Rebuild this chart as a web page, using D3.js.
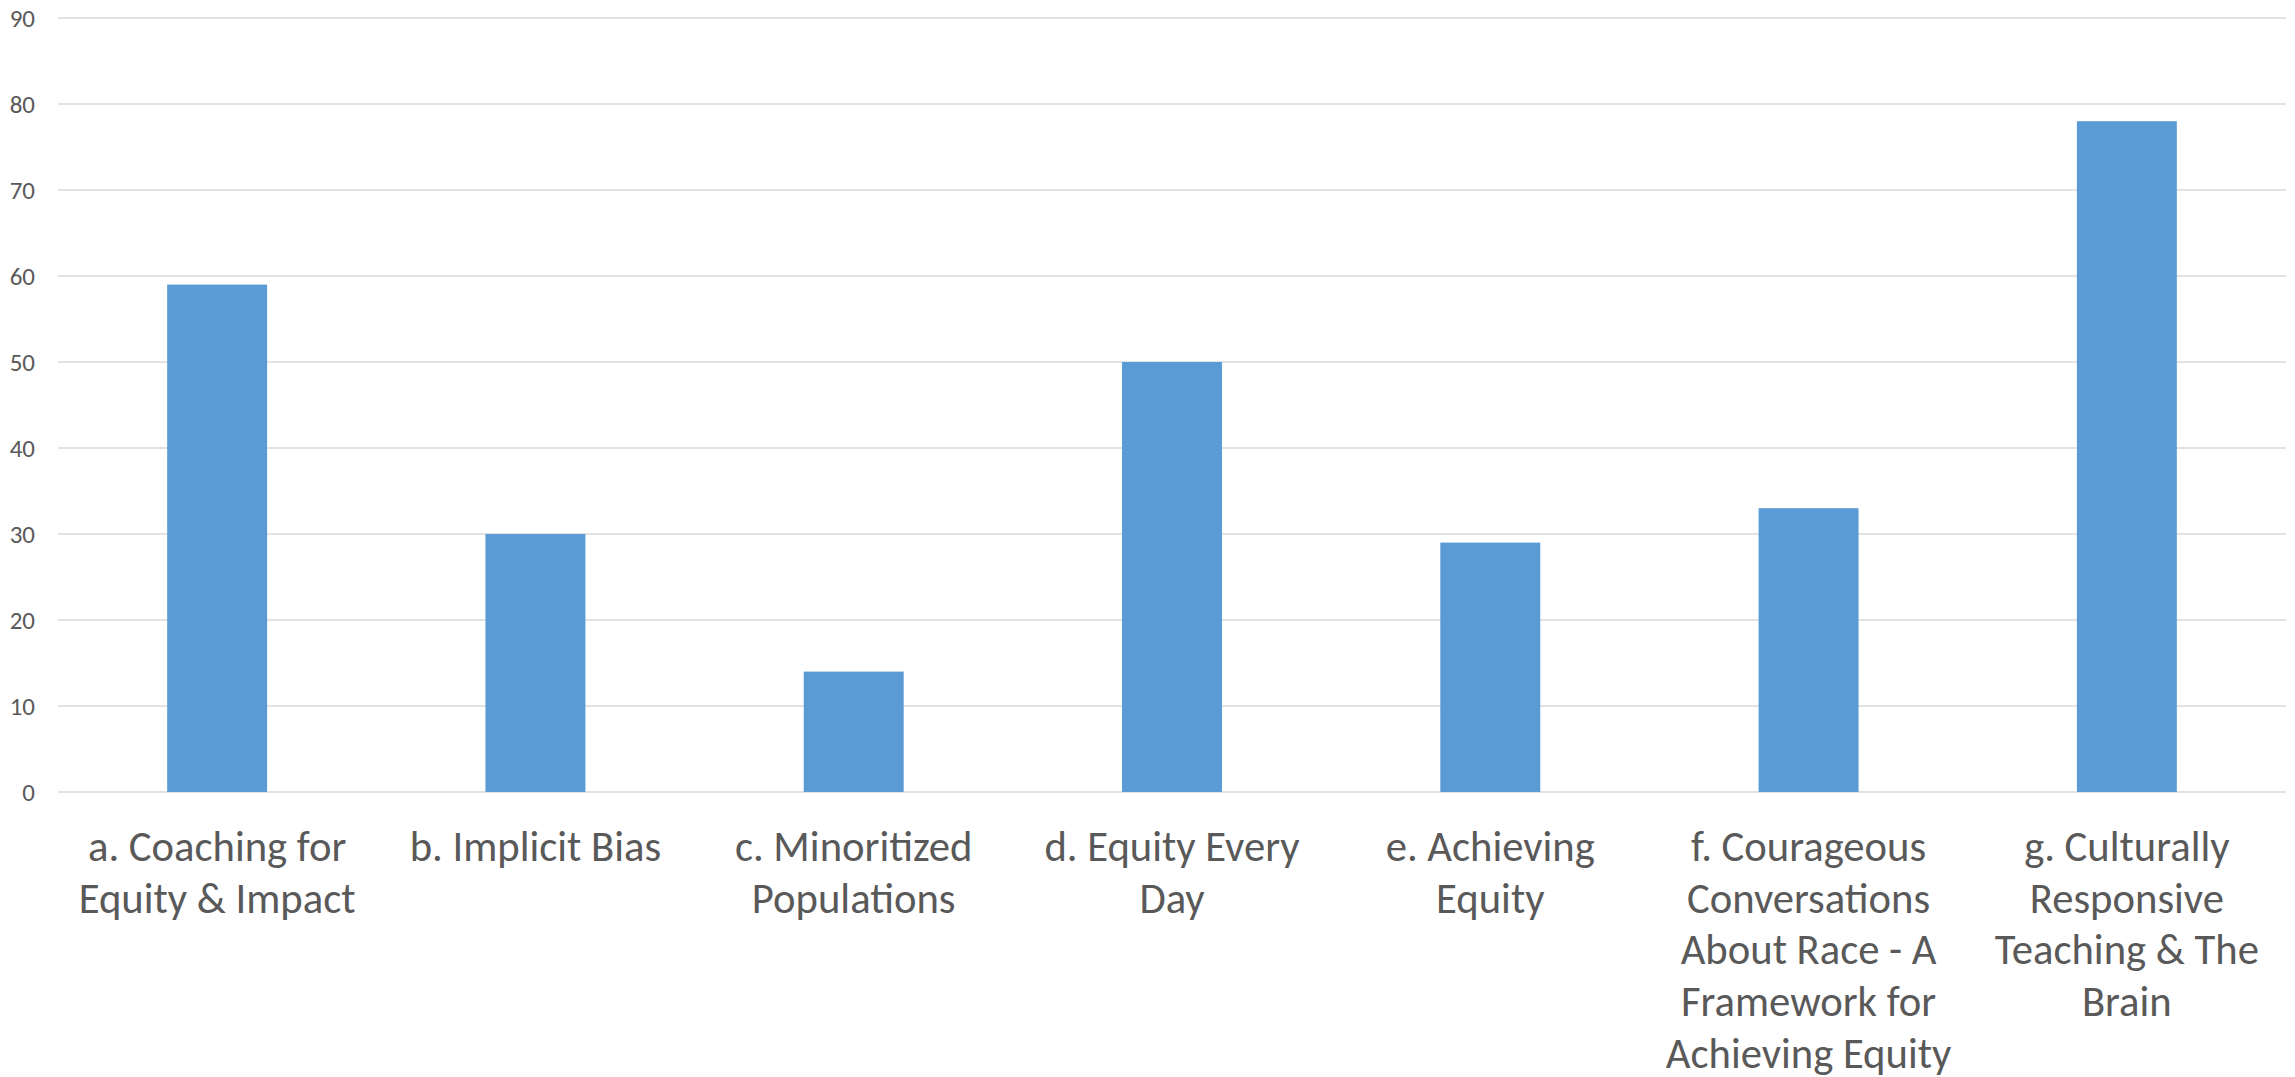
<!DOCTYPE html>
<html>
<head>
<meta charset="utf-8">
<script src="https://cdn.jsdelivr.net/npm/d3@7"></script>
<style>
  html, body { margin: 0; padding: 0; background: #fff; }
  svg { display: block; }
  text { font-family: Carlito, Calibri, Lato, sans-serif; fill: #595959; }
</style>
</head>
<body>
<svg id="chart" width="2295" height="1077"></svg>
<script>
const categories = [
  "a. Coaching for Equity & Impact",
  "b. Implicit Bias",
  "c. Minoritized Populations",
  "d. Equity Every Day",
  "e. Achieving Equity",
  "f. Courageous Conversations About Race - A Framework for Achieving Equity",
  "g. Culturally Responsive Teaching & The Brain"
];
const labelLines = [
  ["a. Coaching for", "Equity & Impact"],
  ["b. Implicit Bias"],
  ["c. Minoritized", "Populations"],
  ["d. Equity Every", "Day"],
  ["e. Achieving", "Equity"],
  ["f. Courageous", "Conversations", "About Race - A", "Framework for", "Achieving Equity"],
  ["g. Culturally", "Responsive", "Teaching & The", "Brain"]
];
const values = [59, 30, 14, 50, 29, 33, 78];
const yTicks = [0, 10, 20, 30, 40, 50, 60, 70, 80, 90];

const svg = d3.select("#chart");
const plotLeft = 58, plotRight = 2286, plotTop = 18, plotBottom = 792;

const x = d3.scaleBand().domain(categories).range([plotLeft, plotRight]).paddingInner(0.686).paddingOuter(0.343);
const y = d3.scaleLinear().domain([0, 90]).range([plotBottom, plotTop]);

// gridlines
svg.append("g").selectAll("line").data(yTicks).join("line")
  .attr("x1", plotLeft).attr("x2", plotRight)
  .attr("y1", d => y(d)).attr("y2", d => y(d))
  .attr("stroke", "#d9d9d9").attr("stroke-width", 1.5);

// y axis labels
const yAxis = d3.axisLeft(y).tickValues(yTicks).tickSize(0).tickPadding(0);
const gy = svg.append("g").attr("transform", `translate(35,0)`).call(yAxis);
gy.select(".domain").remove();
gy.selectAll("text").attr("font-size", 25).attr("fill", "#595959")
  .style("font-family", "Carlito, Calibri, Lato, sans-serif");

// bars
svg.append("g").selectAll("rect").data(values).join("rect")
  .attr("x", (d, i) => x(categories[i]))
  .attr("width", x.bandwidth())
  .attr("y", d => y(d))
  .attr("height", d => y(0) - y(d))
  .attr("fill", "#5b9bd5");

// category labels
const band = d3.scaleBand().domain(categories).range([plotLeft, plotRight]);
const lg = svg.append("g");
categories.forEach((c, i) => {
  const cx = band(c) + band.bandwidth() / 2;
  const t = lg.append("text")
    .attr("x", cx)
    .attr("y", 861)
    .attr("text-anchor", "middle")
    .attr("font-size", 42.67);
  labelLines[i].forEach((ln, j) => {
    t.append("tspan").attr("x", cx).attr("dy", j === 0 ? 0 : 51.7).text(ln);
  });
});
</script>
</body>
</html>
